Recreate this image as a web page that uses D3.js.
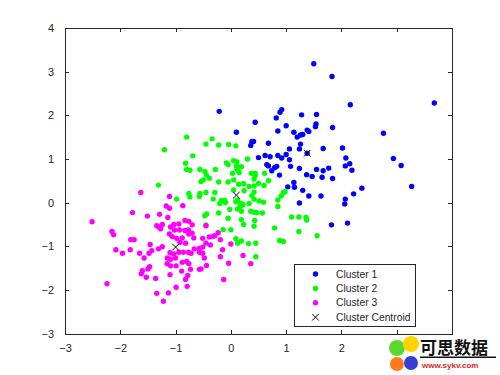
<!DOCTYPE html>
<html>
<head>
<meta charset="utf-8">
<script src="https://cdn.jsdelivr.net/npm/d3@7"></script>
<style>
  body { margin: 0; background: #fff; }
  text { font-family: "Liberation Sans", Arial, sans-serif; }
</style>
</head>
<body>
<div class="main"></div>
<script>
////Globals
const width = 500;
const height = 375;
const xTicks = [-3, -2, -1, 0, 1, 2, 3, 4];
const yTicks = [-3, -2, -1, 0, 1, 2, 3, 4];
const seriesNames = ['Cluster 1', 'Cluster 2', 'Cluster 3', 'Cluster Centroid'];
const seriesColors = ['#0000ff', '#00ff00', '#ff00ff', '#000000'];

const cluster1 = [[1.50,3.18],[1.83,2.89],[3.68,2.28],[2.16,2.24],[-0.21,2.09],[0.92,2.13],[0.89,2.07],[1.28,2.01],[1.55,2.02],[0.82,1.94],[0.44,1.84],[1.00,1.76],[1.54,1.80],[1.53,1.74],[1.84,1.72],[0.85,1.64],[0.10,1.61],[1.14,1.61],[1.38,1.66],[1.41,1.63],[2.76,1.59],[1.26,1.55],[1.20,1.50],[1.30,1.56],[0.38,1.40],[0.41,1.40],[0.68,1.36],[1.26,1.34],[0.36,1.31],[1.06,1.23],[1.24,1.23],[1.67,1.24],[2.02,1.25],[1.38,1.13],[0.62,1.08],[0.71,1.05],[0.50,1.03],[0.85,1.08],[0.92,1.02],[1.00,1.10],[2.94,1.01],[2.08,1.02],[1.06,0.98],[3.08,0.85],[0.65,0.87],[0.68,0.84],[0.83,0.83],[0.79,0.80],[1.08,0.83],[1.24,0.78],[1.55,0.76],[2.07,0.84],[2.15,0.89],[2.19,0.74],[0.74,0.73],[1.77,0.79],[1.67,0.73],[0.88,0.63],[1.37,0.64],[1.47,0.60],[1.65,0.58],[1.84,0.55],[3.27,0.37],[1.14,0.46],[1.03,0.36],[1.15,0.35],[1.30,0.28],[2.37,0.33],[2.22,0.20],[1.41,0.15],[1.63,0.15],[2.07,0.08],[2.06,-0.03],[1.24,-0.01],[1.82,-0.51],[2.11,-0.47]];

const cluster2 = [[-0.80,1.50],[-0.34,1.46],[-1.20,1.21],[-0.45,1.34],[-0.22,1.32],[-0.04,1.33],[0.09,1.30],[-0.69,1.07],[-0.82,0.90],[-0.80,0.76],[-0.74,0.74],[-0.56,0.76],[-0.47,0.71],[-0.44,0.63],[-0.39,0.56],[-0.28,0.76],[-0.08,0.91],[-0.05,0.87],[0.05,0.96],[0.11,0.93],[0.10,0.84],[0.19,0.82],[0.11,0.77],[0.15,0.69],[0.30,1.00],[0.03,0.67],[0.37,0.67],[0.44,0.67],[0.44,0.62],[0.42,0.54],[0.61,0.67],[0.68,0.50],[0.60,0.39],[-0.54,0.48],[-0.50,0.52],[-1.31,0.40],[-0.22,0.47],[-0.05,0.47],[0.14,0.42],[0.23,0.43],[0.33,0.37],[0.42,0.38],[0.50,0.44],[0.05,0.52],[-0.76,0.21],[-0.74,0.13],[-0.56,0.21],[-0.45,0.23],[-0.57,0.14],[-0.29,0.23],[-0.98,0.08],[-0.32,0.08],[-0.17,0.05],[-0.20,-0.02],[-0.11,0.05],[-0.10,0.00],[0.05,0.29],[0.24,0.27],[0.42,0.24],[0.09,0.02],[0.12,0.06],[0.18,-0.02],[0.22,-0.05],[0.17,-0.09],[0.38,0.16],[0.42,0.08],[0.51,0.04],[0.59,0.01],[0.33,-0.02],[0.36,-0.20],[0.42,-0.22],[0.47,-0.23],[0.57,-0.24],[0.85,0.06],[0.91,0.15],[0.95,0.23],[0.98,0.25],[0.85,-0.09],[-0.02,-0.16],[0.12,-0.15],[0.19,-0.20],[-0.47,-0.30],[-0.44,-0.26],[-0.22,-0.24],[-0.05,-0.36],[0.19,-0.39],[0.23,-0.50],[0.42,-0.54],[0.43,-0.41],[-0.45,-0.51],[-0.14,-0.62],[0.00,-0.62],[0.79,-0.58],[1.10,-0.33],[1.23,-0.33],[1.36,-0.34],[1.37,-0.40],[1.23,-0.66],[1.56,-0.76],[0.88,-0.87],[0.95,-0.89],[0.09,-0.83],[0.12,-0.93],[0.19,-0.88],[0.32,-0.94],[0.45,-0.93],[0.45,-1.24]];

const cluster3 = [[-1.63,0.23],[-1.11,0.14],[-1.78,-0.23],[-1.51,-0.31],[-1.29,-0.27],[-1.14,-0.34],[-1.17,-0.08],[-1.11,-0.13],[-0.87,-0.07],[-2.51,-0.44],[-2.15,-0.66],[-2.12,-0.74],[-1.34,-0.53],[-1.30,-0.56],[-1.24,-0.50],[-1.27,-0.60],[-1.09,-0.56],[-1.03,-0.50],[-0.94,-0.49],[-0.83,-0.41],[-0.76,-0.43],[-0.70,-0.51],[-1.11,-0.72],[-1.06,-0.78],[-1.02,-0.63],[-0.93,-0.63],[-0.83,-0.64],[-0.77,-0.63],[-0.76,-0.72],[-0.70,-0.70],[-0.98,-0.82],[-0.88,-0.81],[-0.92,-0.91],[-0.82,-0.93],[-0.67,-0.81],[-1.81,-0.85],[-1.75,-0.85],[-1.46,-0.96],[-1.24,-1.01],[-1.31,-1.06],[-1.43,-1.10],[-1.48,-1.16],[-1.65,-1.16],[-1.82,-1.08],[-2.08,-1.08],[-1.96,-1.16],[-1.57,-1.27],[-1.10,-1.15],[-1.03,-1.18],[-0.94,-1.14],[-0.86,-1.14],[-0.77,-1.14],[-0.72,-1.16],[-0.66,-1.06],[-0.57,-1.14],[-1.15,-1.27],[-1.09,-1.30],[-1.00,-1.27],[-1.15,-1.40],[-1.09,-1.45],[-0.99,-1.45],[-0.88,-1.37],[-0.80,-1.35],[-0.76,-1.40],[-1.47,-1.47],[-1.50,-1.52],[-1.60,-1.56],[-1.62,-1.63],[-1.53,-1.71],[-1.36,-1.74],[-1.10,-1.65],[-0.89,-1.57],[-0.78,-1.67],[-0.82,-1.76],[-2.24,-1.86],[-1.34,-2.08],[-1.13,-2.07],[-1.22,-2.26],[-0.99,-1.94],[-0.79,-1.92],[-0.57,-1.53],[-0.57,-1.05],[-0.45,-0.53],[-0.51,-0.82],[-0.39,-0.79],[-0.33,-0.78],[-0.29,-0.76],[-0.23,-0.69],[-0.19,-0.85],[-0.45,-0.93],[-0.37,-0.97],[-0.51,-1.02],[-0.15,-1.08],[0.00,-0.95],[-0.51,-1.16],[-0.48,-1.27],[-0.44,-1.44],[-0.54,-1.52],[-0.19,-1.24],[-0.04,-1.39],[0.22,-1.21],[0.36,-1.40],[-0.13,-1.76],[-0.73,-1.53]];

const centroids = [[1.38,1.13],[0.10,0.17],[-1.00,-1.02]];

const margin = { left: 65, right: 48, top: 28, bottom: 41.5 };
const axisColor = '#262626';
const tickLen = 4;

const svg = d3.select('.main').append('svg')
  .attr('width', width)
  .attr('height', height);

const x = d3.scaleLinear().domain([-3, 4]).range([margin.left, width - margin.right]);
const y = d3.scaleLinear().domain([-3, 4]).range([height - margin.bottom, margin.top]);

// points
[cluster1, cluster2, cluster3].forEach((pts, i) => {
  svg.append('g')
    .selectAll('circle')
    .data(pts)
    .enter()
    .append('circle')
    .attr('cx', d => x(d[0]))
    .attr('cy', d => y(d[1]))
    .attr('r', 2.7)
    .attr('fill', seriesColors[i]);
});

const cross = d3.symbol().type(d3.symbolX).size(30);
svg.append('g')
  .selectAll('path')
  .data(centroids)
  .enter()
  .append('path')
  .attr('d', cross)
  .attr('transform', d => `translate(${x(d[0])},${y(d[1])})`)
  .attr('fill', 'none')
  .attr('stroke', '#000')
  .attr('stroke-width', 1);

// axes, MATLAB style box with inward ticks
const axes = [
  { ax: d3.axisBottom(x), t: `translate(0,${y(-3)})`, labels: true },
  { ax: d3.axisTop(x), t: `translate(0,${y(4)})`, labels: false },
  { ax: d3.axisLeft(y), t: `translate(${x(-3)},0)`, labels: true },
  { ax: d3.axisRight(y), t: `translate(${x(4)},0)`, labels: false }
];
axes.forEach(a => {
  const g = svg.append('g')
    .attr('transform', a.t)
    .call(a.ax.tickValues(a.ax.scale() === x ? xTicks : yTicks)
      .tickSizeInner(-tickLen).tickSizeOuter(0).tickPadding(tickLen + 7)
      .tickFormat(a.labels ? d3.format('d') : ''));
  g.select('.domain').attr('stroke', axisColor).attr('shape-rendering', 'crispEdges');
  g.selectAll('.tick line').attr('stroke', axisColor).attr('shape-rendering', 'crispEdges');
  g.selectAll('.tick text')
    .attr('fill', axisColor)
    .style('font-size', '11px')
    .style('font-family', '"Liberation Sans", Arial, sans-serif');
});

// legend
const legend = svg.append('g').attr('transform', 'translate(294,264.5)');
legend.append('rect')
  .attr('width', 121.5)
  .attr('height', 61.5)
  .attr('fill', '#fff')
  .attr('stroke', axisColor)
  .attr('shape-rendering', 'crispEdges');
seriesNames.forEach((name, i) => {
  const row = legend.append('g').attr('transform', `translate(0,${9.5 + i * 14.4})`);
  if (i < 3) {
    row.append('circle').attr('cx', 21.5).attr('r', 2.7).attr('fill', seriesColors[i]);
  } else {
    row.append('path').attr('d', cross).attr('transform', 'translate(21.5,0)')
      .attr('fill', 'none').attr('stroke', '#000').attr('stroke-width', 1);
  }
  row.append('text')
    .attr('x', 42)
    .attr('dy', '0.35em')
    .attr('fill', axisColor)
    .style('font-size', '10.3px')
    .text(name);
});

// watermark, drawn over the last x label as in the reference
const wm = svg.append('g');
wm.append('circle').attr('cx', 397).attr('cy', 348).attr('r', 8).attr('fill', '#5ad82b');
wm.append('circle').attr('cx', 411).attr('cy', 344).attr('r', 8).attr('fill', '#ffd200');
wm.append('circle').attr('cx', 397).attr('cy', 364).attr('r', 7).attr('fill', '#ff7a1a');
wm.append('circle').attr('cx', 411).attr('cy', 363).attr('r', 7).attr('fill', '#3b3bd6');
wm.append('rect').attr('x', 419).attr('y', 338).attr('width', 81).attr('height', 20).attr('fill', '#fff');
wm.append('text').attr('x', 420).attr('y', 354)
  .style('font-family', '"Noto Sans CJK SC"').style('font-size', '17px').style('font-weight', 'bold')
  .attr('fill', '#111').text('可思数据');
wm.append('rect').attr('x', 420).attr('y', 356.5).attr('width', 76).attr('height', 1.5).attr('fill', '#111');
wm.append('text').attr('x', 422).attr('y', 368)
  .style('font-size', '8px').style('font-weight', 'bold')
  .attr('fill', '#d61f1f').text('www.sykv.com');
</script>
</body>
</html>
